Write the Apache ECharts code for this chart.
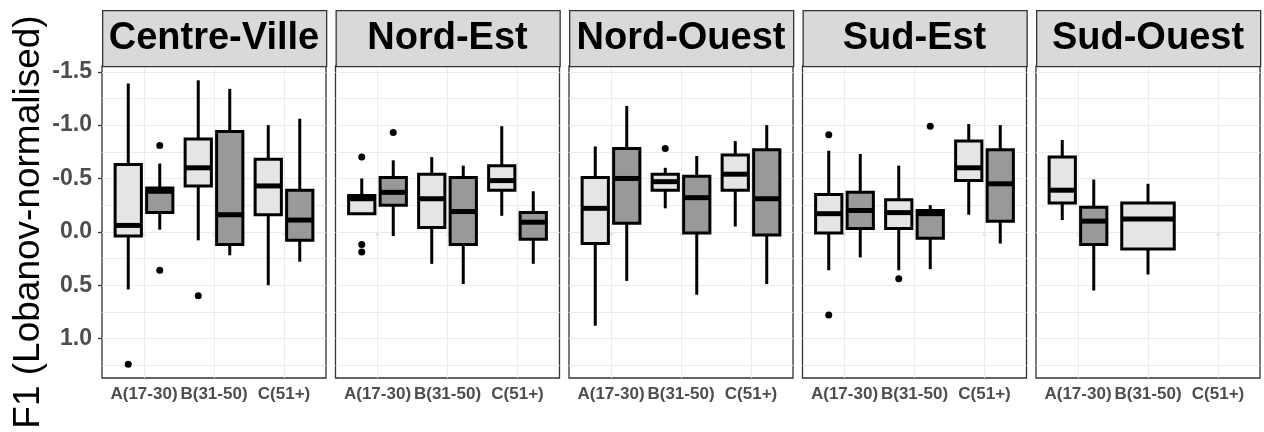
<!DOCTYPE html>
<html>
<head>
<meta charset="utf-8">
<script src="https://cdn.jsdelivr.net/npm/echarts@6/dist/echarts.min.js"></script>
<style>
html,body{margin:0;padding:0;background:#fff;}
#chart{width:1264px;height:432px;}
</style>
</head>
<body>
<div id="chart"></div>
<script>
// ---------- DATA ----------
const regions = ['Centre-Ville', 'Nord-Est', 'Nord-Ouest', 'Sud-Est', 'Sud-Ouest'];
const ageGroups = ['A(17-30)', 'B(31-50)', 'C(51+)'];
const yTickValues = [-1.5, -1.0, -0.5, 0.0, 0.5, 1.0];
const yGridValues = [-1.5, -1.25, -1.0, -0.75, -0.5, -0.25, 0, 0.25, 0.5, 0.75, 1.0, 1.25];
const yTitle = 'F1 (Lobanov-normalised)';

// box stats: [age index, group index (0 light / 1 dark), min, q1, median, q3, max]
const centreVilleStats = [
  [0, 0, -1.39, -0.63, -0.06, 0.04, 0.54],
  [0, 1, -0.64, -0.41, -0.38, -0.18, -0.02],
  [1, 0, -1.42, -0.87, -0.60, -0.43, 0.08],
  [1, 1, -1.34, -0.94, -0.16, 0.12, 0.22],
  [2, 0, -1.00, -0.68, -0.43, -0.16, 0.50],
  [2, 1, -1.06, -0.39, -0.11, 0.08, 0.28]
];
const nordEstStats = [
  [0, 0, -0.50, -0.34, -0.31, -0.17, -0.17],
  [0, 1, -0.67, -0.51, -0.37, -0.25, 0.04],
  [1, 0, -0.70, -0.54, -0.31, -0.04, 0.30],
  [1, 1, -0.62, -0.51, -0.19, 0.12, 0.49],
  [2, 0, -0.99, -0.62, -0.48, -0.39, -0.15],
  [2, 1, -0.38, -0.18, -0.09, 0.07, 0.30]
];
const nordOuestStats = [
  [0, 0, -0.80, -0.51, -0.22, 0.11, 0.88],
  [0, 1, -1.18, -0.78, -0.50, -0.08, 0.46],
  [1, 0, -0.60, -0.54, -0.47, -0.39, -0.22],
  [1, 1, -0.71, -0.52, -0.32, 0.01, 0.59],
  [2, 0, -0.85, -0.72, -0.54, -0.39, -0.05],
  [2, 1, -1.00, -0.77, -0.31, 0.03, 0.49]
];
const sudEstStats = [
  [0, 0, -0.76, -0.35, -0.17, 0.01, 0.36],
  [0, 1, -0.73, -0.37, -0.20, -0.03, 0.24],
  [1, 0, -0.62, -0.30, -0.18, -0.03, 0.36],
  [1, 1, -0.25, -0.20, -0.17, 0.06, 0.35],
  [2, 0, -1.01, -0.85, -0.60, -0.48, -0.16],
  [2, 1, -1.00, -0.77, -0.45, -0.10, 0.11]
];
const sudOuestStats = [
  [0, 0, -0.86, -0.70, -0.39, -0.27, -0.11],
  [0, 1, -0.49, -0.23, -0.10, 0.12, 0.55],
  [1, 0, -0.45, -0.27, -0.12, 0.16, 0.40]
];

// outliers: [age index, group index, value]
const centreVilleOutliers = [[0, 0, 1.24], [0, 1, -0.81], [0, 1, 0.36], [1, 0, 0.60]];
const nordEstOutliers = [[0, 0, -0.70], [0, 0, 0.12], [0, 0, 0.19], [0, 1, -0.93]];
const nordOuestOutliers = [[1, 0, -0.78]];
const sudEstOutliers = [[0, 0, -0.91], [0, 0, 0.78], [1, 0, 0.44], [1, 1, -0.99]];
const sudOuestOutliers = [];

const allStats = [centreVilleStats, nordEstStats, nordOuestStats, sudEstStats, sudOuestStats];
const allOutliers = [centreVilleOutliers, nordEstOutliers, nordOuestOutliers, sudEstOutliers, sudOuestOutliers];

// ---------- STYLE / LAYOUT ----------
const groupFills = ['#e5e5e5', '#999999'];
const FONT = '"Liberation Sans", Arial, sans-serif';
const PANEL_LEFT = 102, PANEL_STEP = 233.5, PANEL_W = 224;
const PANEL_TOP = 66, PANEL_H = 312, STRIP_TOP = 10;
const DODGE = 0.45, BOX_W = 0.375;
const Y_MIN = -1.554, Y_MAX = 1.37;

function dodgeInfo(stats, age, group) {
  const n = stats.filter(s => s[0] === age).length;
  if (n < 2) return { pos: age + 1, w: BOX_W * 2 };
  return { pos: age + 1 + (group === 0 ? -DODGE / 2 : DODGE / 2), w: BOX_W };
}

const grids = [], xAxes = [], yAxes = [], series = [], graphics = [];

regions.forEach((name, i) => {
  const left = PANEL_LEFT + i * PANEL_STEP;
  grids.push({
    left: left, top: PANEL_TOP, width: PANEL_W, height: PANEL_H,
    outerBoundsMode: 'none', containLabel: false,
    show: true, backgroundColor: '#fff', borderColor: '#333333', borderWidth: 1.3
  });
  xAxes.push({
    type: 'value', gridIndex: i, min: 0.4, max: 3.6,
    axisLine: { show: false },
    axisTick: { show: true, customValues: [1, 2, 3], length: 4, lineStyle: { color: '#333', width: 1.3 } },
    axisLabel: {
      customValues: [1, 2, 3], margin: 8, hideOverlap: false, interval: 0,
      formatter: v => ageGroups[Math.round(v) - 1] || '',
      color: '#4d4d4d', fontWeight: 'bold', fontSize: 17, fontFamily: FONT
    },
    splitLine: { show: false }
  });
  yAxes.push({
    type: 'value', gridIndex: i, min: Y_MIN, max: Y_MAX, inverse: true,
    axisLine: { show: false },
    axisTick: { show: false },
    axisLabel: i === 0 ? {
      customValues: yTickValues, margin: 10,
      formatter: v => v.toFixed(1),
      color: '#4d4d4d', fontWeight: 'bold', fontSize: 23, fontFamily: FONT
    } : { show: false },
    splitLine: { show: false },
    name: i === 0 ? yTitle : '',
    nameLocation: 'middle', nameRotate: 90, nameGap: 55,
    nameTextStyle: { fontSize: 37, color: '#000', fontFamily: FONT }
  });

  // panel grid lines (ggplot theme_bw)
  const gridLineData = [1, 2, 3].map(v => ({ xAxis: v }))
    .concat(yGridValues.map(v => ({ yAxis: v })));
  series.push({
    type: 'scatter', xAxisIndex: i, yAxisIndex: i, data: [], z: 1, silent: true,
    markLine: {
      z: 1, silent: true, symbol: ['none', 'none'], animation: false,
      label: { show: false }, emphasis: { disabled: true },
      lineStyle: { type: 'solid', color: '#ebebeb', width: 1, opacity: 1 },
      data: gridLineData
    }
  });

  const stats = allStats[i];
  const boxData = stats.map(s => {
    const d = dodgeInfo(stats, s[0], s[1]);
    return { value: [d.pos, d.w, s[2], s[3], s[4], s[5], s[6]], itemStyle: { color: groupFills[s[1]] } };
  });
  series.push({
    type: 'custom', xAxisIndex: i, yAxisIndex: i, data: boxData, z: 3,
    renderItem: function (params, api) {
      const x = api.value(0), w = api.value(1);
      const lo = api.value(2), q1 = api.value(3), med = api.value(4), q3 = api.value(5), hi = api.value(6);
      const half = api.size([w, 0])[0] / 2;
      const pLo = api.coord([x, lo]), pQ1 = api.coord([x, q1]), pMed = api.coord([x, med]);
      const pQ3 = api.coord([x, q3]), pHi = api.coord([x, hi]);
      const cx = pMed[0];
      const yTop = Math.min(pQ1[1], pQ3[1]), yBot = Math.max(pQ1[1], pQ3[1]);
      const line = { stroke: '#000', lineWidth: 3 };
      return {
        type: 'group',
        children: [
          { type: 'line', shape: { x1: cx, y1: pLo[1], x2: cx, y2: pQ1[1] }, style: line },
          { type: 'line', shape: { x1: cx, y1: pQ3[1], x2: cx, y2: pHi[1] }, style: line },
          { type: 'rect', shape: { x: cx - half, y: yTop, width: half * 2, height: yBot - yTop },
            style: { fill: api.visual('color'), stroke: '#000', lineWidth: 3 } },
          { type: 'line', shape: { x1: cx - half, y1: pMed[1], x2: cx + half, y2: pMed[1] },
            style: { stroke: '#000', lineWidth: 5 } }
        ]
      };
    }
  });
  const outData = allOutliers[i].map(o => [dodgeInfo(stats, o[0], o[1]).pos, o[2]]);
  series.push({
    type: 'scatter', xAxisIndex: i, yAxisIndex: i, data: outData, z: 4,
    symbol: 'circle', symbolSize: 7, itemStyle: { color: '#000', opacity: 1 }, silent: true
  });

  // facet strip
  graphics.push({
    type: 'rect', left: left, top: STRIP_TOP, z: 10,
    shape: { width: PANEL_W, height: PANEL_TOP - STRIP_TOP },
    style: { fill: '#d9d9d9', stroke: '#333333', lineWidth: 1.3 }
  });
  graphics.push({
    type: 'text', z: 11,
    x: left + PANEL_W / 2, y: (STRIP_TOP + PANEL_TOP) / 2 + 1,
    style: {
      text: name, fill: '#000', font: 'bold 38px "Liberation Sans", Arial, sans-serif',
      align: 'center', verticalAlign: 'middle'
    }
  });
});

// major y ticks on first panel
yAxes.push({
  type: 'value', gridIndex: 0, min: Y_MIN, max: Y_MAX, inverse: true, position: 'left',
  axisLine: { show: false }, axisLabel: { show: false }, splitLine: { show: false },
  axisTick: { show: true, customValues: yTickValues, length: 4, lineStyle: { color: '#333', width: 1.3 } }
});

const chart = echarts.init(document.getElementById('chart'), null, { renderer: 'canvas' });
chart.setOption({
  animation: false,
  backgroundColor: '#fff',
  grid: grids, xAxis: xAxes, yAxis: yAxes, series: series, graphic: graphics
});
</script>
</body>
</html>
